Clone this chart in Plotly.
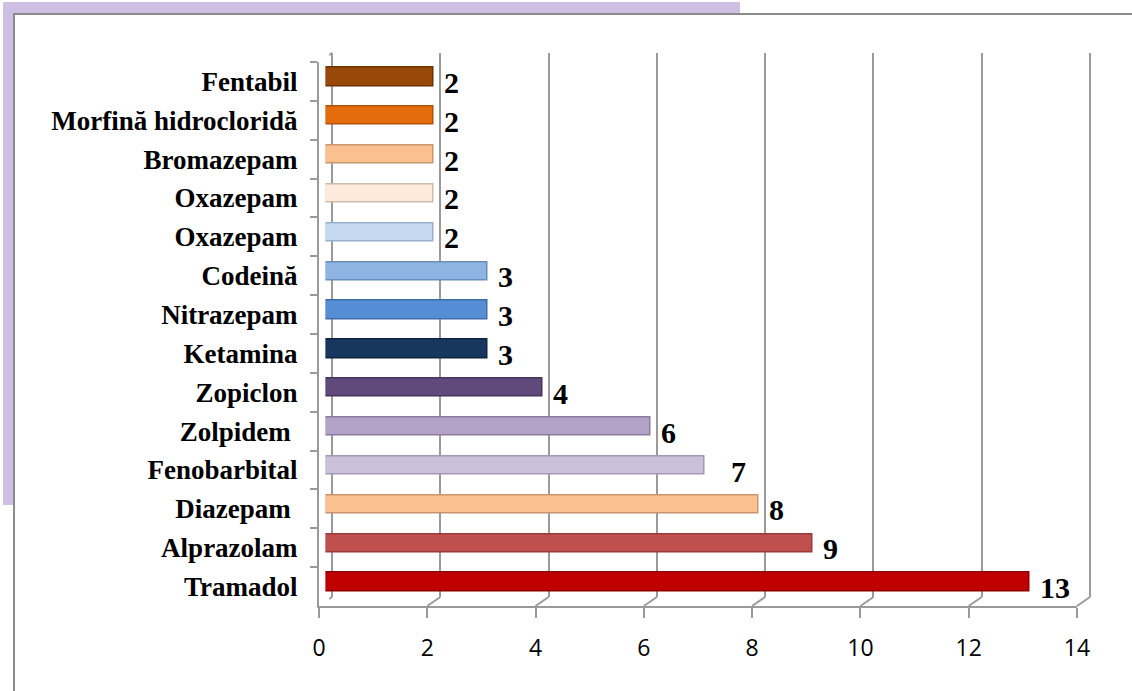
import plotly.graph_objects as go

# ---- data (top to bottom as shown) ----
drugs = ["Fentabil", "Morfină hidrocloridă", "Bromazepam", "Oxazepam", "Oxazepam",
         "Codeină", "Nitrazepam", "Ketamina", "Zopiclon", "Zolpidem\u00a0",
         "Fenobarbital", "Diazepam\u00a0", "Alprazolam", "Tramadol"]
counts = [2, 2, 2, 2, 2, 3, 3, 3, 4, 6, 7, 8, 9, 13]
colors = ["#984807", "#E46C0A", "#FAC090", "#FDEADA", "#C6D9F1", "#8EB4E3", "#558ED5",
          "#17375E", "#604A7B", "#B3A2C7", "#CCC1DA", "#FAC090", "#C0504D", "#C00000"]
edge_colors = ["#6E3305", "#B05308", "#C8956E", "#CDBBAE", "#9AAFCB", "#6A8DB8", "#3F6DA8",
               "#0E2440", "#463559", "#8C7CA0", "#A598B5", "#C8956E", "#963C3A", "#900000"]
label_extra_shift = [0, 0, 0, 0, 0, 0, 0, 0, 0, 0, 16, 0, 0, 0]
x_ticks = [0, 2, 4, 6, 8, 10, 12, 14]

# make category keys unique (duplicate names) without visible change
keys = []
for d in drugs:
    k = d
    while k in keys:
        k += "\u200b"
    keys.append(k)
n = len(keys)
cat_range = [n - 0.5, -0.5]

W, H = 1132, 691


def xd(a, b):
    return [a / W, b / W]


def yd(top, bottom):
    return [1 - bottom / H, 1 - top / H]


# front frame (pixels)
FX0, FX1, FY0, FY1 = 319, 1077, 62, 606
DX, DY = 13, 9          # depth offset of back wall
PAD = 0.05              # small range pad so edge grid lines are drawn
ppu = (FX1 - FX0) / 14.0
grid_col = "#9a9a9a"

fig = go.Figure()

# back wall subplot (grid)
fig.add_trace(go.Scatter(x=counts, y=keys, mode="markers", marker=dict(opacity=0),
                         xaxis="x", yaxis="y", hoverinfo="skip", showlegend=False))
# front subplot (axes + labels)
fig.add_trace(go.Scatter(x=counts, y=keys, mode="markers", marker=dict(opacity=0),
                         xaxis="x2", yaxis="y2", hoverinfo="skip", showlegend=False))
# bars subplot (mid depth)
fig.add_trace(go.Bar(x=counts, y=keys, orientation="h", width=0.47,
                     marker=dict(color=colors, line=dict(color=edge_colors, width=1.5)),
                     xaxis="x3", yaxis="y3", hoverinfo="skip", showlegend=False))

fig.update_layout(
    width=W, height=H, autosize=False,
    margin=dict(l=0, r=0, t=0, b=0, pad=0, autoexpand=False),
    paper_bgcolor="white", plot_bgcolor="rgba(0,0,0,0)",
    xaxis=dict(domain=xd(FX0 + DX - PAD * ppu, FX1 + DX + PAD * ppu), range=[-PAD, 14 + PAD],
               tickvals=x_ticks, automargin=False,
               showgrid=True, gridcolor=grid_col, gridwidth=2, showticklabels=False,
               showline=False, zeroline=False, ticks="", anchor="y", fixedrange=True),
    yaxis=dict(domain=yd(FY0 - DY, FY1 - DY), type="category", categoryarray=keys,
               range=cat_range, showgrid=False, showticklabels=False, automargin=False,
               showline=False, zeroline=False, ticks="", anchor="x"),
    xaxis2=dict(domain=xd(FX0, FX1), range=[0, 14], tickvals=x_ticks, automargin=False,
                showgrid=False, zeroline=False, showline=True, linecolor=grid_col, linewidth=2,
                ticks="outside", ticklen=10, tickwidth=2, tickcolor=grid_col,
                tickfont=dict(family="Open Sans", size=23, color="black"),
                ticklabelstandoff=10, anchor="y2"),
    yaxis2=dict(domain=yd(FY0, FY1), type="category", categoryarray=keys, automargin=False,
                range=cat_range, tickson="boundaries", showgrid=False, zeroline=False,
                showline=True, linecolor=grid_col, linewidth=2,
                ticks="outside", ticklen=7, tickwidth=2, tickcolor=grid_col,
                tickfont=dict(family="Liberation Serif", size=27, color="black", weight="bold"),
                ticklabelstandoff=14, anchor="x2"),
    xaxis3=dict(domain=xd(FX0 + DX / 2, FX1 + DX / 2), range=[0, 14], visible=False,
                automargin=False, anchor="y3"),
    yaxis3=dict(domain=yd(FY0 - DY / 2, FY1 - DY / 2), type="category", categoryarray=keys,
                range=cat_range, visible=False, automargin=False, anchor="x3"),
    bargap=0,
)

shapes = [
    # lavender decoration behind the frame
    dict(type="rect", xref="paper", yref="paper", x0=3 / W, x1=740 / W,
         y0=1 - 505 / H, y1=1 - 2 / H, fillcolor="#CFC0E3", line=dict(width=0), layer="below"),
    # white chart frame with gray top/left border
    dict(type="rect", xref="paper", yref="paper", x0=14 / W, x1=1.01,
         y0=-0.01, y1=1 - 14 / H, fillcolor="white",
         line=dict(color="#8c8c8c", width=2), layer="below"),
]
# floor diagonals connecting front ticks to back wall
for t in x_ticks:
    shapes.append(dict(type="line", xref="x", xsizemode="pixel", xanchor=t, x0=0, x1=-DX,
                       yref="paper", ysizemode="pixel", yanchor=1 - (FY1 - DY) / H, y0=0, y1=-DY,
                       line=dict(color=grid_col, width=2), layer="below"))
# top-left wall edge
shapes.append(dict(type="line", xref="x", xsizemode="pixel", xanchor=0, x0=0, x1=-DX,
                   yref="paper", ysizemode="pixel", yanchor=1 - (FY0 - DY) / H, y0=0, y1=-DY,
                   line=dict(color=grid_col, width=2), layer="below"))
fig.update_layout(shapes=shapes)

annotations = []
for k, v, s in zip(keys, counts, label_extra_shift):
    annotations.append(dict(x=v, y=k, xref="x2", yref="y2", text=str(v), showarrow=False,
                            xanchor="left", yanchor="middle", xshift=15 + s, yshift=-1,
                            font=dict(family="Liberation Serif", size=30, color="black",
                                      weight="bold")))
fig.update_layout(annotations=annotations)

fig.write_html("out.html")
